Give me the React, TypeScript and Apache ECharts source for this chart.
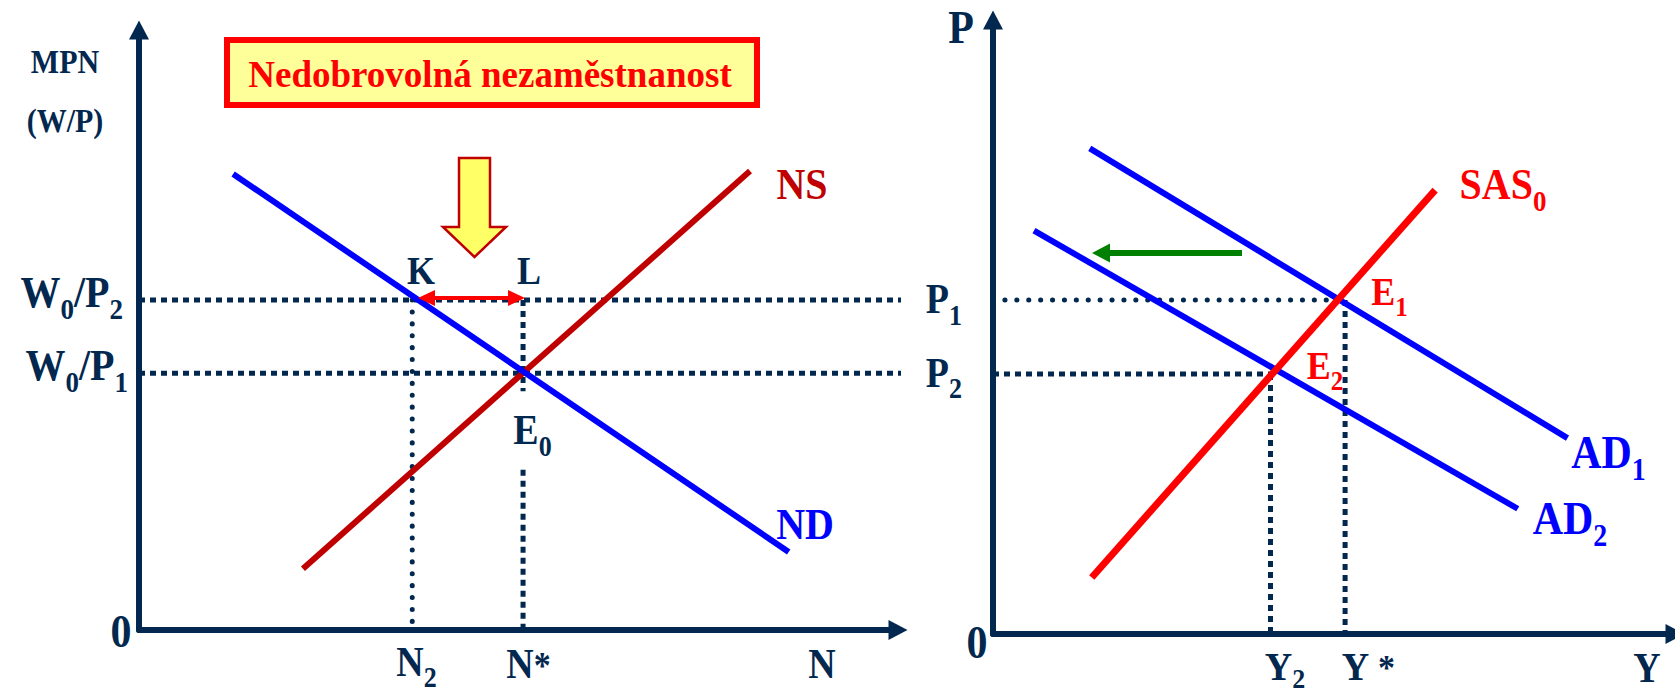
import React, { useEffect, useRef } from "react";
import * as echarts from "echarts";

// ---------- Left panel: labour market (units of the N / (W/P) axes) ----------
const ndLine = [[12.4, 76], [85.6, 13]];
const nsLine = [[21.6, 10.2], [80.5, 76.5]];
const wP2 = 55;
const wP1 = 42.8;
const nTwo = 36;
const nStar = 50.6;
const leftDotEnd = 100.7;
const lGapTop = 39.8;
const lGapBottom = 26.7;

// ---------- Right panel: AD / SAS (units of the Y / P axes) ----------
const ad1Line = [[14.4, 79.1], [85.5, 31.9]];
const ad2Line = [[6.1, 65.7], [78.1, 20.4]];
const sasLine = [[14.7, 9.2], [65.8, 72.3]];
const pOne = 54.4;
const pTwo = 42.35;
const yTwo = 41.3;
const yStar = 52.4;

const NAVY = "#03284f";
const BLUE = "#0000ff";
const DARKRED = "#c00000";
const RED = "#ff0000";
const GREEN = "#008000";
const FONT = '"Liberation Serif", "Times New Roman", Times, serif';

const SQUARE: number[] = [6, 5];
const ROUND: number[] = [0.1, 11.8];

function seg(data: number[][], idx: number, color: string, width: number, type: any = "solid", cap: any = "butt") {
  return {
    type: "line",
    xAxisIndex: idx,
    yAxisIndex: idx,
    data,
    symbol: "none",
    showSymbol: false,
    silent: true,
    clip: false,
    lineStyle: { color, width, type, cap },
    emphasis: { disabled: true },
  };
}

function plain(x: number, y: number, text: string, color: string, size: number, align = "center", sy = 1.12) {
  return {
    type: "text",
    x,
    y,
    scaleY: sy,
    silent: true,
    z: 100,
    style: {
      text,
      x: 0,
      y: 0,
      align,
      verticalAlign: "middle",
      fill: color,
      fontFamily: FONT,
      fontWeight: "bold",
      fontSize: size,
    },
  };
}

function rich(
  x: number,
  y: number,
  text: string,
  color: string,
  size: number,
  sub: number,
  align = "center",
  sy = 1.12,
  pad = Math.round(size * 0.22)
) {
  const P = pad;
  const base = { fontFamily: FONT, fontWeight: "bold", fill: color };
  return {
    type: "text",
    x,
    y,
    scaleY: sy,
    silent: true,
    z: 100,
    style: {
      text,
      x: 0,
      y: 0,
      align,
      verticalAlign: "middle",
      ...base,
      fontSize: size,
      rich: {
        m: { ...base, fontSize: size, verticalAlign: "bottom", padding: [0, 0, P, 0] },
        t: { ...base, fontSize: Math.round(size * 0.9), verticalAlign: "bottom", padding: [0, 0, P, 0] },
        s: { ...base, fontSize: sub, verticalAlign: "bottom" },
      },
    },
  };
}

function axisPair(idx: number, xMax: number) {
  const line = {
    show: true,
    onZero: false,
    lineStyle: { color: NAVY, width: 6 },
    symbol: ["none", "triangle"],
    symbolSize: [20, 19],
  };
  const common = {
    type: "value",
    gridIndex: idx,
    min: 0,
    axisLine: line,
    axisTick: { show: false },
    axisLabel: { show: false },
    splitLine: { show: false },
  };
  return {
    x: { ...common, max: xMax },
    y: { ...common, max: 100 },
  };
}

export default function App() {
  const ref = useRef<HTMLDivElement>(null);
  useEffect(() => {
    if (!ref.current) return;
    const chart = echarts.init(ref.current, null, { renderer: "svg" });
    const a0 = axisPair(0, 100);
    const a1 = axisPair(1, 101.5);

    const series: any[] = [
      // left dotted guides
      seg([[0, wP2], [leftDotEnd, wP2]], 0, NAVY, 5, SQUARE),
      seg([[0, wP1], [leftDotEnd, wP1]], 0, NAVY, 5, SQUARE),
      seg([[nTwo, wP2], [nTwo, 0]], 0, NAVY, 5, ROUND, "round"),
      seg([[nStar, wP2], [nStar, lGapTop]], 0, NAVY, 5, SQUARE),
      seg([[nStar, lGapBottom], [nStar, 0]], 0, NAVY, 5, SQUARE),
      // left curves
      seg(nsLine, 0, DARKRED, 6),
      seg(ndLine, 0, BLUE, 6),
      // right dotted guides
      seg([[0, pOne], [yStar, pOne]], 1, NAVY, 5, ROUND, "round"),
      seg([[0, pTwo], [yTwo, pTwo]], 1, NAVY, 5, SQUARE),
      seg([[yTwo, pTwo], [yTwo, 0]], 1, NAVY, 5, SQUARE),
      seg([[yStar, pOne], [yStar, 0]], 1, NAVY, 5, SQUARE),
      // right curves
      seg(ad1Line, 1, BLUE, 6),
      seg(ad2Line, 1, BLUE, 6),
      seg(sasLine, 1, RED, 7),
    ];

    const graphic: any[] = [
      // title box
      {
        type: "rect",
        shape: { x: 227, y: 40, width: 530, height: 65 },
        style: { fill: "#ffff99", stroke: RED, lineWidth: 6 },
        z: 90,
        silent: true,
      },
      {
        type: "text",
        x: 490,
        y: 74,
        z: 100,
        silent: true,
        style: {
          text: "Nedobrovolná nezaměstnanost",
          x: 0,
          y: 0,
          align: "center",
          verticalAlign: "middle",
          fill: RED,
          fontFamily: FONT,
          fontWeight: "bold",
          fontSize: 37,
        },
      },
      // yellow down arrow
      {
        type: "polygon",
        z: 95,
        silent: true,
        shape: {
          points: [[459, 158], [490, 158], [490, 227], [506, 227], [474.5, 257], [443, 227], [459, 227]],
        },
        style: { fill: "#ffff66", stroke: DARKRED, lineWidth: 2.5 },
      },
      // red double arrow K-L
      { type: "line", z: 95, silent: true, shape: { x1: 430, y1: 298, x2: 513, y2: 298 }, style: { stroke: RED, lineWidth: 4 } },
      { type: "polygon", z: 95, silent: true, shape: { points: [[418, 298], [435, 290], [435, 306]] }, style: { fill: RED } },
      { type: "polygon", z: 95, silent: true, shape: { points: [[525, 298], [508, 290], [508, 306]] }, style: { fill: RED } },
      // green shift arrow
      { type: "line", z: 95, silent: true, shape: { x1: 1106, y1: 253, x2: 1242, y2: 253 }, style: { stroke: GREEN, lineWidth: 6 } },
      { type: "polygon", z: 95, silent: true, shape: { points: [[1092, 253], [1110, 243.5], [1110, 262.5]] }, style: { fill: GREEN } },

      // left labels
      plain(65, 61.5, "MPN", NAVY, 30),
      plain(65, 120.5, "(W/P)", NAVY, 30),
      rich(123, 296.5, "{m|W}{s|0}{m|/P}{s|2}", NAVY, 40, 27, "right"),
      rich(128, 369.5, "{m|W}{s|0}{m|/P}{s|1}", NAVY, 40, 27, "right"),
      plain(121, 631.5, "0", NAVY, 42),
      rich(416.5, 666, "{m|N}{s|2}", NAVY, 38, 26),
      rich(528.5, 668, "{m|N}{t|*}", NAVY, 38, 26),
      plain(822, 664, "N", NAVY, 38),
      plain(421, 270.5, "K", NAVY, 36),
      plain(529, 270, "L", NAVY, 36),
      rich(532.5, 434.5, "{m|E}{s|0}", NAVY, 38, 26),
      plain(802, 184, "NS", DARKRED, 40),
      plain(805, 523.5, "ND", BLUE, 40),

      // right labels
      plain(961, 27.5, "P", NAVY, 42),
      rich(962, 303.5, "{m|P}{s|1}", NAVY, 38, 26, "right"),
      rich(962, 377, "{m|P}{s|2}", NAVY, 38, 26, "right"),
      plain(977, 642.5, "0", NAVY, 42),
      rich(1285, 669, "{m|Y}{s|2}", NAVY, 38, 26, "center", 1.05, 6),
      rich(1368, 669, "{m|Y }{t|*}", NAVY, 38, 26, "center", 1.05, 6),
      plain(1647, 668, "Y", NAVY, 38),
      rich(1503, 188.5, "{m|SAS}{s|0}", RED, 40, 27),
      rich(1389.5, 295.5, "{m|E}{s|1}", RED, 36, 25),
      rich(1325, 370, "{m|E}{s|2}", RED, 36, 25),
      rich(1608.5, 457, "{m|AD}{s|1}", BLUE, 42, 28),
      rich(1570, 523, "{m|AD}{s|2}", BLUE, 42, 28),
    ];

    chart.setOption({
      animation: false,
      backgroundColor: "#ffffff",
      grid: [
        { left: 139, top: 30, width: 759, height: 600, containLabel: false },
        { left: 993, top: 20, width: 685, height: 614, containLabel: false },
      ],
      xAxis: [a0.x, a1.x],
      yAxis: [a0.y, a1.y],
      series,
      graphic,
    });
    return () => chart.dispose();
  }, []);
  return (
    <div
      ref={ref}
      style={{ position: "absolute", left: 0, top: 0, width: 1675, height: 695, background: "#fff" }}
    />
  );
}
